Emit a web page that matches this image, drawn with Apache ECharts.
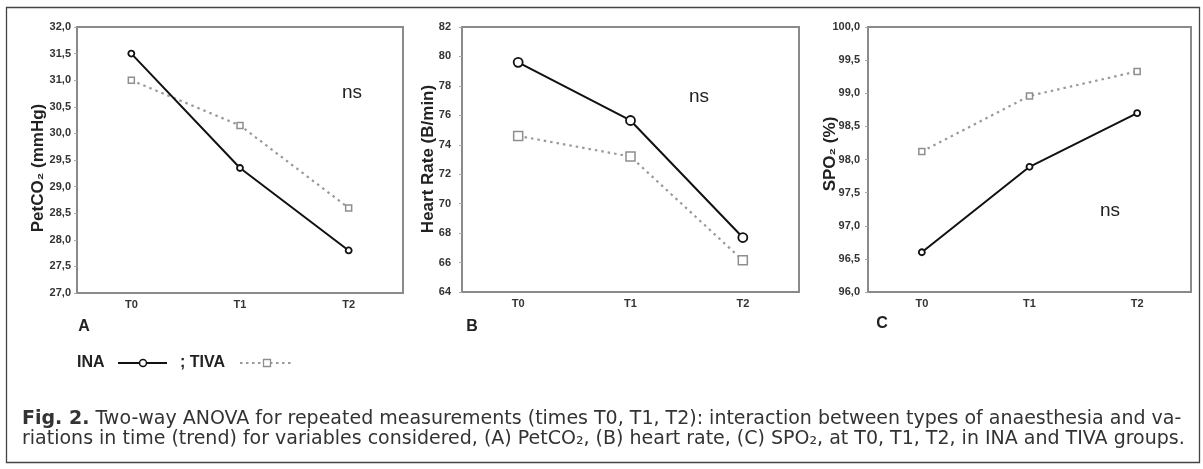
<!DOCTYPE html>
<html><head><meta charset="utf-8">
<script src="https://cdn.jsdelivr.net/npm/echarts@6/dist/echarts.min.js"></script>
<style>html,body{margin:0;padding:0;background:#fff}#c{width:1203px;height:469px}</style>
</head><body><div id="c"></div>
<script>
// ---- data ----
const categories = ['T0', 'T1', 'T2'];
const petco2INA  = [31.5, 29.35, 27.8];
const petco2TIVA = [31.0, 30.15, 28.6];
const hrINA      = [79.6, 75.65, 67.7];
const hrTIVA     = [74.6, 73.2, 66.15];
const spo2INA    = [96.6, 97.89, 98.7];
const spo2TIVA   = [98.12, 98.96, 99.33];
const yNames     = ['PetCO\u2082 (mmHg)', 'Heart Rate (B/min)', 'SPO\u2082 (%)'];
const panelLetters = ['A', 'B', 'C'];
const sigLabels  = ['ns', 'ns', 'ns'];
const legendNames = ['INA', '; TIVA'];
const captionBold = 'Fig. 2.';
const captionLine1 = ' Two-way ANOVA for repeated measurements (times T0, T1, T2): interaction between types of anaesthesia and va-';
const captionLine2 = 'riations in time (trend) for variables considered, (A) PetCO\u2082, (B) heart rate, (C) SPO\u2082, at T0, T1, T2, in INA and TIVA groups.';

// ---- layout ----
const FONT = '"Liberation Sans", Arial, sans-serif';
const grids = [
  {left: 77,  top: 27, width: 326, height: 266},
  {left: 462, top: 27, width: 337, height: 265},
  {left: 868, top: 27, width: 323, height: 265}
];
const yRanges = [{min: 27, max: 32, interval: 0.5}, {min: 64, max: 82, interval: 2}, {min: 96, max: 100, interval: 0.5}];
const yFmt = [v => v.toFixed(1).replace('.', ','), v => String(v), v => v.toFixed(1).replace('.', ',')];
const yLabelMargin = [6, 11, 8];
const markerSizes = [6, 9, 6];
const inaData = [petco2INA, hrINA, spo2INA];
const tivaData = [petco2TIVA, hrTIVA, spo2TIVA];

const frameColor = '#8a8a8a';
const option = {
  animation: false,
  backgroundColor: '#fff',
  grid: grids.map(g => Object.assign({show: true, borderColor: frameColor, borderWidth: 2, backgroundColor: 'transparent'}, g)),
  xAxis: [],
  yAxis: [],
  series: [],
  graphic: []
};

grids.forEach((g, i) => {
  option.xAxis.push({
    type: 'category', gridIndex: i, data: categories, boundaryGap: true, position: 'bottom',
    axisLine: {lineStyle: {color: frameColor, width: 2}},
    axisTick: {alignWithLabel: true, length: 3, lineStyle: {color: '#aaa'}},
    axisLabel: {margin: 6, fontSize: 11, fontWeight: 'bold', color: '#333', fontFamily: FONT}
  });
  option.xAxis.push({
    type: 'category', gridIndex: i, data: categories, boundaryGap: true, position: 'top',
    axisLine: {lineStyle: {color: frameColor, width: 2}},
    axisTick: {alignWithLabel: true, length: 3, lineStyle: {color: '#aaa'}},
    axisLabel: {show: false}
  });
  option.yAxis.push(Object.assign({
    type: 'value', gridIndex: i,
    axisLine: {show: true, lineStyle: {color: frameColor, width: 2}},
    axisTick: {show: true, length: 3, lineStyle: {color: '#aaa'}},
    splitLine: {show: false},
    axisLabel: {margin: yLabelMargin[i], fontSize: 11, fontWeight: 'bold', color: '#333', fontFamily: FONT, formatter: yFmt[i]}
  }, yRanges[i]));
  option.series.push({
    type: 'line', xAxisIndex: i * 2, yAxisIndex: i, data: tivaData[i], z: 3,
    symbol: 'rect', symbolSize: markerSizes[i],
    lineStyle: {color: '#9a9a9a', width: 2.2, type: [2.5, 4]},
    itemStyle: {color: '#fff', borderColor: '#8e8e8e', borderWidth: 1.5}
  });
  option.series.push({
    type: 'line', xAxisIndex: i * 2, yAxisIndex: i, data: inaData[i], z: 4,
    symbol: 'circle', symbolSize: markerSizes[i],
    lineStyle: {color: '#111', width: 2},
    itemStyle: {color: '#fff', borderColor: '#111', borderWidth: 1.8}
  });
});

// y-axis names (rotated)
const yNamePos = [[38, 168], [428, 159], [830, 154]];
yNamePos.forEach((p, i) => {
  option.graphic.push({
    type: 'text', x: p[0], y: p[1], rotation: Math.PI / 2,
    style: {text: yNames[i], font: 'bold 17px ' + FONT, fill: '#222', align: 'center', verticalAlign: 'middle'}
  });
});
// ns labels
const nsPos = [[352, 93], [699, 97], [1110, 211]];
nsPos.forEach((p, i) => {
  option.graphic.push({type: 'text', x: p[0], y: p[1],
    style: {text: sigLabels[i], font: '19px ' + FONT, fill: '#222', align: 'center', verticalAlign: 'middle'}});
});
// panel letters
const letterPos = [[84, 327], [472, 327], [882, 324]];
letterPos.forEach((p, i) => {
  option.graphic.push({type: 'text', x: p[0], y: p[1],
    style: {text: panelLetters[i], font: 'bold 16px ' + FONT, fill: '#222', align: 'center', verticalAlign: 'middle'}});
});
// legend
option.graphic.push(
  {type: 'text', x: 77, y: 363, style: {text: legendNames[0], font: 'bold 16px ' + FONT, fill: '#222', verticalAlign: 'middle'}},
  {type: 'line', shape: {x1: 118, y1: 363, x2: 167, y2: 363}, style: {stroke: '#111', lineWidth: 2}},
  {type: 'circle', shape: {cx: 143, cy: 363, r: 3.5}, style: {fill: '#fff', stroke: '#111', lineWidth: 1.5}},
  {type: 'text', x: 180, y: 363, style: {text: legendNames[1], font: 'bold 16px ' + FONT, fill: '#222', verticalAlign: 'middle'}},
  {type: 'line', shape: {x1: 240, y1: 363, x2: 293, y2: 363}, style: {stroke: '#9a9a9a', lineWidth: 2, lineDash: [2.5, 3.5]}},
  {type: 'rect', shape: {x: 263.5, y: 359.5, width: 7, height: 7}, style: {fill: '#fff', stroke: '#8e8e8e', lineWidth: 1.3}}
);
// caption
const CAP = '"DejaVu Sans", sans-serif';
option.graphic.push({
  type: 'text', x: 22, y: 419,
  style: {
    text: '{b|' + captionBold + '}{n|' + captionLine1 + '}', verticalAlign: 'middle',
    rich: {b: {font: 'bold 19px ' + CAP, fill: '#333'}, n: {font: '19px ' + CAP, fill: '#333'}}
  }
});
option.graphic.push({
  type: 'text', x: 22, y: 439,
  style: {text: captionLine2, font: '19px ' + CAP, fill: '#333', verticalAlign: 'middle'}
});
// outer frame
option.graphic.push({type: 'rect', shape: {x: 6.5, y: 7.5, width: 1193, height: 455}, style: {fill: 'none', stroke: '#444', lineWidth: 1.3}, z: -1});

const chart = echarts.init(document.getElementById('c'), null, {renderer: 'canvas'});
chart.setOption(option);
</script>
</body></html>
